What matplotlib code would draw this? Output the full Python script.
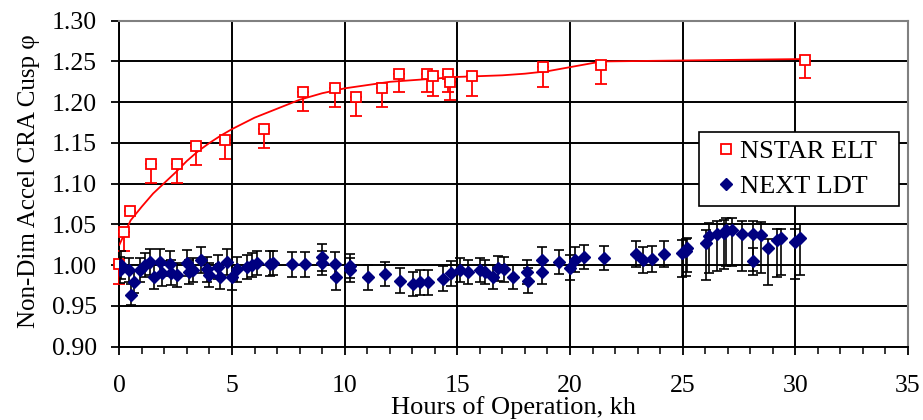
import matplotlib
matplotlib.use('Agg')
import matplotlib.pyplot as plt
from matplotlib.lines import Line2D
from matplotlib.patches import Rectangle
from matplotlib.ticker import MultipleLocator

plt.rcParams['font.family'] = ['Liberation Serif', 'DejaVu Serif']

# NSTAR ELT: accel grid CRA cusp, minus-only error bars
nstar_kh = [0.0, 0.19, 0.49, 1.39, 2.54, 3.39, 4.71, 6.42, 8.15, 9.55, 10.5, 11.65,
            12.42, 13.65, 13.94, 14.6, 14.69, 15.65, 18.79, 21.38, 30.45]
nstar_phi = [1.002, 1.041, 1.067, 1.124, 1.124, 1.146, 1.154, 1.167, 1.212, 1.217, 1.206, 1.217,
             1.235, 1.235, 1.232, 1.235, 1.225, 1.232, 1.243, 1.246, 1.252]
nstar_err = [0.025, 0.023, 0.0, 0.023, 0.023, 0.023, 0.024, 0.023, 0.023, 0.023, 0.023, 0.023,
             0.023, 0.023, 0.024, 0.023, 0.022, 0.024, 0.024, 0.024, 0.022]

# fitted trend line
fit_kh = [0.0, 0.5, 1.0, 1.5, 2.0, 2.5, 3.0, 3.5, 4.0, 4.5, 5.0, 6.0, 7.0, 8.0, 9.0, 10.0,
          11.0, 12.0, 13.0, 14.0, 15.0, 16.0, 17.0, 18.0, 19.0, 20.0, 21.0, 21.4, 30.45]
fit_phi = [1.025, 1.055, 1.072, 1.088, 1.101, 1.114, 1.128, 1.140, 1.150, 1.159, 1.167, 1.181,
           1.192, 1.203, 1.211, 1.217, 1.221, 1.225, 1.227, 1.229, 1.231, 1.232, 1.233, 1.235,
           1.238, 1.243, 1.248, 1.250, 1.253]

# NEXT LDT
next_kh = [0.01, 0.07, 0.41, 0.52, 0.63, 0.90, 1.15, 1.37, 1.52, 1.79, 1.89, 2.26, 2.30, 2.55,
           3.00, 3.07, 3.29, 3.63, 3.88, 3.96, 4.40, 4.47, 4.77, 4.99, 5.21, 5.66, 5.88, 6.10,
           6.69, 6.83, 7.65, 8.24, 8.98, 9.00, 9.57, 9.60, 10.23, 10.25, 11.04, 11.78, 12.44,
           13.03, 13.33, 13.70, 14.36, 14.73, 15.10, 15.47, 15.99, 16.21, 16.58, 16.80, 17.09,
           17.46, 18.10, 18.12, 18.76, 18.78, 19.53, 20.00, 20.22, 20.64, 21.52, 22.93, 23.25,
           23.66, 24.18, 24.99, 25.20, 25.16, 26.03, 26.17, 26.54, 26.84, 26.91, 27.21, 27.65,
           28.12, 28.14, 28.49, 28.79, 29.20, 29.35, 29.98, 30.19]
next_phi = [0.994, 1.000, 0.994, 0.964, 0.980, 0.994, 1.000, 1.004, 0.986, 1.004, 0.990, 1.002,
            0.991, 0.988, 1.003, 0.992, 0.994, 1.006, 0.995, 0.988, 0.998, 0.986, 1.004, 0.985,
            0.995, 0.998, 1.000, 1.003, 1.002, 1.003, 1.001, 1.001, 1.0095, 1.003, 1.001, 0.985,
            0.999, 0.994, 0.985, 0.989, 0.981, 0.977, 0.979, 0.979, 0.9835, 0.990, 0.994, 0.992,
            0.994, 0.992, 0.9855, 0.996, 0.995, 0.9855, 0.992, 0.981, 1.007, 0.992, 1.004, 0.997,
            1.007, 1.010, 1.009, 1.0137, 1.006, 1.0074, 1.0137, 1.0145, 1.0207, 1.017, 1.027,
            1.036, 1.038, 1.040, 1.043, 1.043, 1.038, 1.038, 1.005, 1.037, 1.0207, 1.031,
            1.033, 1.028, 1.033]
next_err_lo = [0.016, 0.017, 0.015, 0.013, 0.014, 0.015, 0.015, 0.016, 0.015, 0.016, 0.015, 0.015,
               0.015, 0.015, 0.016, 0.015, 0.015, 0.016, 0.015, 0.015, 0.015, 0.015, 0.016, 0.015,
               0.015, 0.015, 0.015, 0.015, 0.015, 0.015, 0.015, 0.015, 0.016, 0.015, 0.015, 0.015,
               0.015, 0.015, 0.015, 0.015, 0.015, 0.015, 0.015, 0.015, 0.015, 0.015, 0.015, 0.015,
               0.015, 0.015, 0.015, 0.015, 0.015, 0.015, 0.015, 0.015, 0.015, 0.015, 0.015, 0.015,
               0.015, 0.015, 0.015, 0.016, 0.016, 0.016, 0.016, 0.029, 0.029, 0.030, 0.045, 0.045,
               0.045, 0.045, 0.044, 0.044, 0.045, 0.045, 0.017, 0.046, 0.045, 0.046, 0.045, 0.045,
               0.045]
next_err_hi = [0.016, 0.017, 0.015, 0.013, 0.014, 0.015, 0.015, 0.016, 0.015, 0.016, 0.015, 0.015,
               0.015, 0.015, 0.016, 0.015, 0.015, 0.016, 0.015, 0.015, 0.015, 0.015, 0.016, 0.015,
               0.015, 0.015, 0.015, 0.015, 0.015, 0.015, 0.015, 0.015, 0.016, 0.015, 0.015, 0.015,
               0.015, 0.015, 0.015, 0.015, 0.015, 0.015, 0.015, 0.015, 0.015, 0.015, 0.015, 0.015,
               0.015, 0.015, 0.015, 0.015, 0.015, 0.015, 0.015, 0.015, 0.015, 0.015, 0.015, 0.015,
               0.015, 0.015, 0.015, 0.016, 0.016, 0.016, 0.016, 0.016, 0.013, 0.015, 0.016, 0.016,
               0.016, 0.015, 0.015, 0.015, 0.016, 0.016, 0.016, 0.016, 0.012, 0.014, 0.011, 0.016,
               0.018]

xticks = [0, 5, 10, 15, 20, 25, 30, 35]
yticks = [0.90, 0.95, 1.00, 1.05, 1.10, 1.15, 1.20, 1.25, 1.30]

fig = plt.figure(figsize=(9.23, 4.2), dpi=100)
ax = fig.add_axes([0.1293, 0.1745, 0.8544, 0.7762])

ax.grid(True, which='major', color='black', lw=1.4)
ax.set_axisbelow(True)

ax.plot(fit_kh, fit_phi, color='red', lw=1.3, zorder=3)
ax.errorbar(nstar_kh, nstar_phi, yerr=[nstar_err, [0] * len(nstar_err)], fmt='s',
            mfc='white', mec='red', mew=1.3, ms=7, ecolor='red', elinewidth=1.3,
            capsize=4, capthick=1.3, zorder=4, clip_on=False)
ax.errorbar(next_kh, next_phi, yerr=[next_err_lo, next_err_hi], fmt='D', color='#000080',
            ms=6.5, ecolor='black', elinewidth=1.2, capsize=3.5, capthick=1.2, zorder=5)

ax.set_xlim(0, 35)
ax.set_ylim(0.90, 1.30)
ax.set_xticks(xticks)
ax.xaxis.set_minor_locator(MultipleLocator(1))
ax.set_yticks(yticks)
ax.set_yticklabels(['%.2f' % v for v in yticks])
ax.tick_params(which='major', direction='out', length=6, width=1.3, labelsize=18.5, color='black')
ax.tick_params(which='minor', direction='out', length=5, width=1.1, color='black')
ax.tick_params(axis='x', pad=14.5)
ax.tick_params(axis='y', pad=10)

for s in ['top', 'right']:
    ax.spines[s].set_color('#808080')
    ax.spines[s].set_linewidth(1.5)
for s in ['left', 'bottom']:
    ax.spines[s].set_color('black')
    ax.spines[s].set_linewidth(1.4)

ax.set_xlabel('Hours of Operation, kh', fontsize=19)
ax.xaxis.set_label_coords(0.5, -0.15)
ax.set_ylabel('Non-Dim Accel CRA Cusp \u03c6', fontsize=18)
ax.yaxis.set_label_coords(-0.1005, 0.507)

# legend box drawn by hand so the padding matches the original
ax.add_patch(Rectangle((0.735, 0.4316), 0.2536, 0.227, transform=ax.transAxes,
                       facecolor='white', edgecolor='black', lw=1.2, zorder=6, clip_on=False))
handles = [Line2D([], [], ls='none', marker='s', ms=7.5, mfc='white', mec='red', mew=1.3),
           Line2D([], [], ls='none', marker='D', ms=6.5, color='#000080')]
leg = ax.legend(handles, ['NSTAR ELT', 'NEXT LDT'], loc='upper left',
                bbox_to_anchor=(0.756, 0.636), fontsize=19, frameon=False,
                handlelength=0.8, handletextpad=0.12, borderpad=0, labelspacing=0.45,
                borderaxespad=0)
leg.set_zorder(7)

plt.savefig('out.png', dpi=100)
